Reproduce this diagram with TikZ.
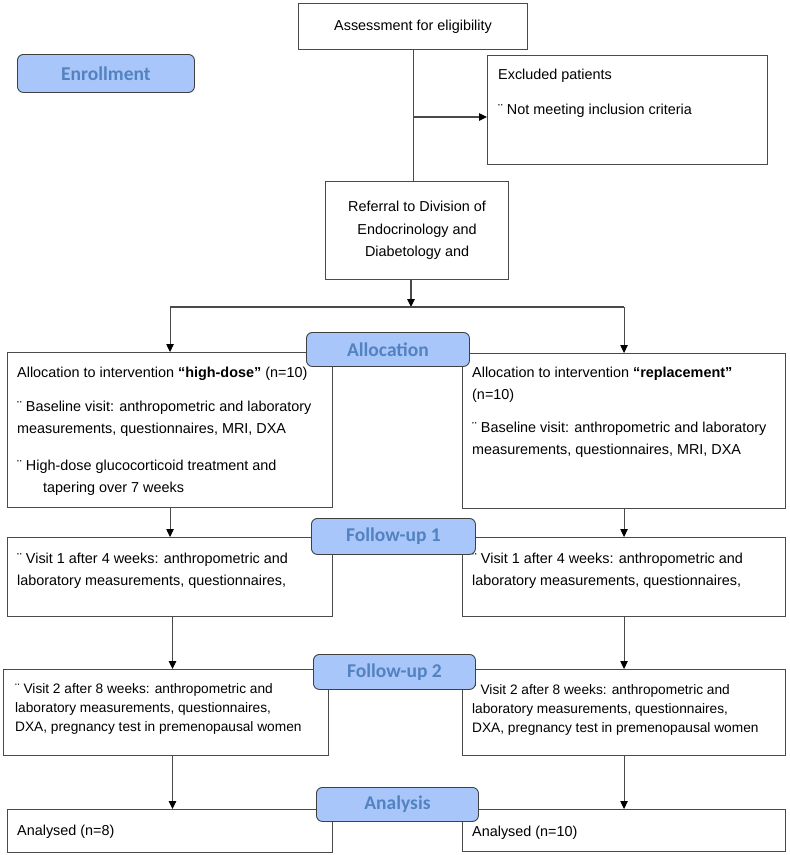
\documentclass[tikz,border=0pt]{standalone}
\usepackage{fontspec}
\setmainfont{Liberation Sans}
\newfontfamily\lblfont{Carlito}
\usetikzlibrary{arrows.meta,calc}
\definecolor{lblfill}{HTML}{A9C6FA}
\definecolor{lbltext}{HTML}{5282C0}
\definecolor{edge}{HTML}{4A4A4A}
\begin{document}
\begin{tikzpicture}[x=1pt,y=-1pt,
  box/.style={draw=edge, line width=1.1pt, fill=white, inner sep=0pt, anchor=north west, font=\fontsize{14.4}{22}\selectfont},
  txt/.style={inner sep=0pt, anchor=north west, align=left, font=\fontsize{14.4}{22}\selectfont},
  smalltxt/.style={txt, font=\fontsize{13.7}{19}\selectfont},
  lbl/.style={draw=black!75, line width=0.9pt, rounded corners=6pt, fill=lblfill, text=lbltext, font=\lblfont\bfseries\fontsize{19.5}{21}\selectfont, inner sep=0pt, anchor=north west},
  conn/.style={draw=edge, line width=1.1pt},
  arr/.style={conn, -{Triangle[length=8pt,width=7.5pt,color=black]}},
]
\useasboundingbox (0,0) rectangle (790,855);

% boxes
\node[box, minimum width=229, minimum height=46] (assess) at (298,3) {Assessment for eligibility};
\node[box, minimum width=280, minimum height=109] (excl) at (487,55) {};
\node[txt] (excltxt) at (498,68.5) {Excluded patients\\[13pt]¨ Not meeting inclusion criteria};
\node[box, minimum width=183, minimum height=98, align=center, font=\fontsize{14.4}{22.5}\selectfont] (ref) at (325,181) {Referral to Division of\\Endocrinology and\\Diabetology and};

\node[box, minimum width=325, minimum height=155] (a1) at (7,352) {};
\node[txt] (a1txt) at (17,366.5) {Allocation to intervention \textbf{“high-dose”} (n=10)\\[12pt]¨ Baseline visit: anthropometric and laboratory\\measurements, questionnaires, MRI, DXA\\[15pt]¨ High-dose glucocorticoid treatment and\\\hspace*{26pt}tapering over 7 weeks};
\node[box, minimum width=323, minimum height=155] (a2) at (462,353) {};
\node[txt] (a2txt) at (472,367) {Allocation to intervention \textbf{“replacement”}\\(n=10)\\[11pt]¨ Baseline visit: anthropometric and laboratory\\measurements, questionnaires, MRI, DXA};

\node[box, minimum width=325, minimum height=79] (v1l) at (7,537) {};
\node[txt] (v1ltxt) at (17,552.5) {¨ Visit 1 after 4 weeks: anthropometric and\\laboratory measurements, questionnaires,};
\node[box, minimum width=323, minimum height=79] (v1r) at (462,537) {};
\node[txt] (v1rtxt) at (472,553) {¨ Visit 1 after 4 weeks: anthropometric and\\laboratory measurements, questionnaires,};

\node[box, minimum width=325, minimum height=86] (v2l) at (3,669) {};
\node[smalltxt] (v2ltxt) at (15,683.5) {¨ Visit 2 after 8 weeks: anthropometric and\\laboratory measurements, questionnaires,\\DXA, pregnancy test in premenopausal women};
\node[box, minimum width=323, minimum height=86] (v2r) at (462,669) {};
\node[smalltxt] (v2rtxt) at (472,684) {¨ Visit 2 after 8 weeks: anthropometric and\\laboratory measurements, questionnaires,\\DXA, pregnancy test in premenopausal women};

\node[box, minimum width=325, minimum height=43] (anl) at (7,809) {};
\node[txt] (anltxt) at (17,824.5) {Analysed (n=8)};
\node[box, minimum width=323, minimum height=42] (anr) at (462,809) {};
\node[txt] (anrtxt) at (472,825.5) {Analysed (n=10)};

% connectors
\coordinate (j1) at (assess.south |- 0,117);
\coordinate (split) at (411,307);
\coordinate (xl) at (172.5,0);
\draw[conn] (assess.south) -- (assess.south |- ref.north);
\draw[arr] (j1) -- (j1 -| excl.west);
\draw[arr] (split |- ref.south) -- (split);
\draw[conn] (a1.north |- split) -- (a2.north |- split);
\draw[arr] (a1.north |- split) -- (a1.north);
\draw[arr] (a2.north |- split) -- (a2.north);
\draw[arr] (a1.south) -- (v1l.north);
\draw[arr] (a2.south) -- (v1r.north);
\draw[arr] (v1l.south -| xl) -- (xl |- v2l.north);
\draw[arr] (v1r.south) -- (v2r.north);
\draw[arr] (v2l.south -| xl) -- (xl |- anl.north);
\draw[arr] (v2r.south) -- (anr.north);

% labels
\node[lbl, minimum width=177, minimum height=38] (enr) at (17,54) {Enrollment};
\node[lbl, minimum width=163, minimum height=34] (alloc) at (306,332) {Allocation};
\node[lbl, minimum width=164, minimum height=36] (fu1) at (311,518) {Follow-up 1};
\node[lbl, minimum width=162, minimum height=35] (fu2) at (313,654) {Follow-up 2};
\node[lbl, minimum width=162, minimum height=34] (ana) at (316,787) {Analysis};
\end{tikzpicture}
\end{document}
